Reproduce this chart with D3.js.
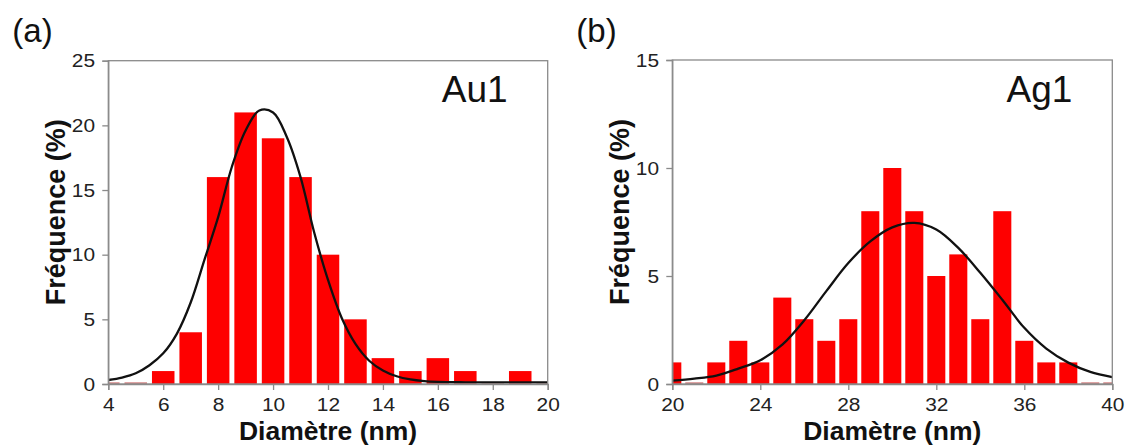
<!DOCTYPE html>
<html><head><meta charset="utf-8">
<script src="https://cdn.jsdelivr.net/npm/d3@7"></script>
<style>
html,body{margin:0;padding:0;background:#fff}
svg{display:block}
text{font-family:'Liberation Sans',Arial,sans-serif}
</style>
</head><body>
<svg id="c" width="1126" height="445"></svg>
<script>
// ---- data ----
const auBins = [4,5,6,7,8,9,10,11,12,13,14,15,16,17,18,19,20];
const auFreq = [0,0,1,4,16,21,19,16,10,5,2,1,2,1,0,1,0];
const auCurveX = [4,4.5,5,5.5,6,6.5,7,7.5,8,8.5,9,9.5,10,10.5,11,11.5,12,12.5,13,13.5,14,14.5,15,15.5,16,17,18,19,20];
const auCurveY = [0.31,0.5,0.83,1.45,2.37,3.9,6.3,9.6,12.9,16.8,19.6,21.15,21.0,19.1,16.0,11.7,8.05,5.1,3.1,1.8,1.05,0.6,0.35,0.22,0.16,0.13,0.12,0.12,0.12];
const auXTicks = [4,6,8,10,12,14,16,18,20];
const auYTicks = [0,5,10,15,20,25];

const agBins = [20,21,22,23,24,25,26,27,28,29,30,31,32,33,34,35,36,37,38,39,40];
const agFreq = [1,0,1,2,1,4,3,2,3,8,10,8,5,6,3,8,2,1,1,0,0];
const agCurveX = [20,21,22,23,24,25,26,27,28,29,30,31,32,33,34,35,36,37,38,39,40];
const agCurveY = [0.16,0.25,0.39,0.71,1.1,1.82,2.95,4.3,5.6,6.6,7.25,7.46,7.15,6.3,5.15,3.9,2.6,1.64,0.99,0.56,0.32];
const agXTicks = [20,24,28,32,36,40];
const agYTicks = [0,5,10,15];

const xTitle = "Diamètre (nm)";
const yTitle = "Fréquence (%)";

// ---- drawing ----
const svg = d3.select("#c");

function panel(o){
  const g = svg.append("g");
  const xs = d3.scaleLinear().domain(o.xDomain).range([o.left, o.right]);
  const ys = d3.scaleLinear().domain(o.yDomain).range([o.bottom, o.top]);
  const cid = "clip" + o.id;
  svg.append("clipPath").attr("id", cid).append("rect")
    .attr("x", o.left).attr("y", o.top - 5)
    .attr("width", o.right - o.left).attr("height", o.bottom - o.top + 5);

  const data = o.bins.map((b,i)=>({b, v:o.freq[i]}));
  const half = 0.41;
  const bars = g.append("g").attr("clip-path", `url(#${cid})`);
  bars.selectAll("rect.bar").data(data.filter(d=>d.v>0)).join("rect")
    .attr("class","bar")
    .attr("x", d=>xs(d.b-half))
    .attr("width", d=>xs(d.b+half)-xs(d.b-half))
    .attr("y", d=>ys(d.v))
    .attr("height", d=>ys(0)-ys(d.v))
    .attr("fill", "#fe0000");
  bars.selectAll("rect.zero").data(data.filter(d=>d.v===0)).join("rect")
    .attr("class","zero")
    .attr("x", d=>xs(d.b-half))
    .attr("width", d=>xs(d.b+half)-xs(d.b-half))
    .attr("y", ys(0)-1.5)
    .attr("height", 1.2)
    .attr("fill", "#c04a4a");

  const pts = o.cx.map((x,i)=>[x, o.cy[i]]);
  const line = d3.line().x(d=>xs(d[0])).y(d=>ys(d[1])).curve(d3.curveCatmullRom.alpha(0.5));
  g.append("path").attr("clip-path", `url(#${cid})`)
    .attr("d", line(pts)).attr("fill","none")
    .attr("stroke","#111").attr("stroke-width",2.3);

  // frame
  g.append("rect").attr("x",o.left).attr("y",o.top)
    .attr("width",o.right-o.left).attr("height",o.bottom-o.top)
    .attr("fill","none").attr("stroke","#8a8a8a").attr("stroke-width",1.3);

  const ax = g.append("g").attr("transform",`translate(0,${o.bottom})`)
    .call(d3.axisBottom(xs).tickValues(o.xTicks).tickSize(6).tickPadding(8).tickFormat(d3.format("d")));
  const ay = g.append("g").attr("transform",`translate(${o.left},0)`)
    .call(d3.axisLeft(ys).tickValues(o.yTicks).tickSize(6).tickPadding(6).tickFormat(d3.format("d")));
  [ax, ay].forEach(a=>{
    a.select(".domain").attr("stroke","#8a8a8a").attr("stroke-width",1.3);
    a.selectAll(".tick line").attr("stroke","#8a8a8a").attr("stroke-width",1.3);
    a.selectAll(".tick text").attr("font-size",19).attr("fill","#222")
      .attr("font-family","'Liberation Sans',Arial,sans-serif");
  });
  ay.selectAll(".tick text").attr("transform","scale(1.1,1)");
  ax.selectAll(".tick text").attr("transform","scale(1.1,1)");

  g.append("text").attr("x",(o.left+o.right)/2).attr("y",439.5)
    .attr("text-anchor","middle").attr("font-size",26.5).attr("font-weight","bold")
    .attr("fill","#111").text(xTitle);
  g.append("text").attr("transform",`translate(${o.left-43.5},${(o.top+o.bottom)/2-10}) rotate(-90)`)
    .attr("text-anchor","middle").attr("font-size",27).attr("font-weight","bold")
    .attr("fill","#111").text(yTitle);
  g.append("text").attr("x",o.right-40).attr("y",101.5)
    .attr("text-anchor","end").attr("font-size",37).attr("fill","#111").text(o.name);
  g.append("text").attr("x",o.left-96).attr("y",42)
    .attr("font-size",33).attr("fill","#111").text(o.tag);
}

panel({id:"a", xDomain:[4,20], yDomain:[0,25], left:108.3, right:547.7, top:60.7, bottom:384,
  bins:auBins, freq:auFreq, cx:auCurveX, cy:auCurveY, xTicks:auXTicks, yTicks:auYTicks,
  name:"Au1", tag:"(a)"});
panel({id:"b", xDomain:[20,40], yDomain:[0,15], left:672.3, right:1112.3, top:60, bottom:384,
  bins:agBins, freq:agFreq, cx:agCurveX, cy:agCurveY, xTicks:agXTicks, yTicks:agYTicks,
  name:"Ag1", tag:"(b)"});
</script>
</body></html>
